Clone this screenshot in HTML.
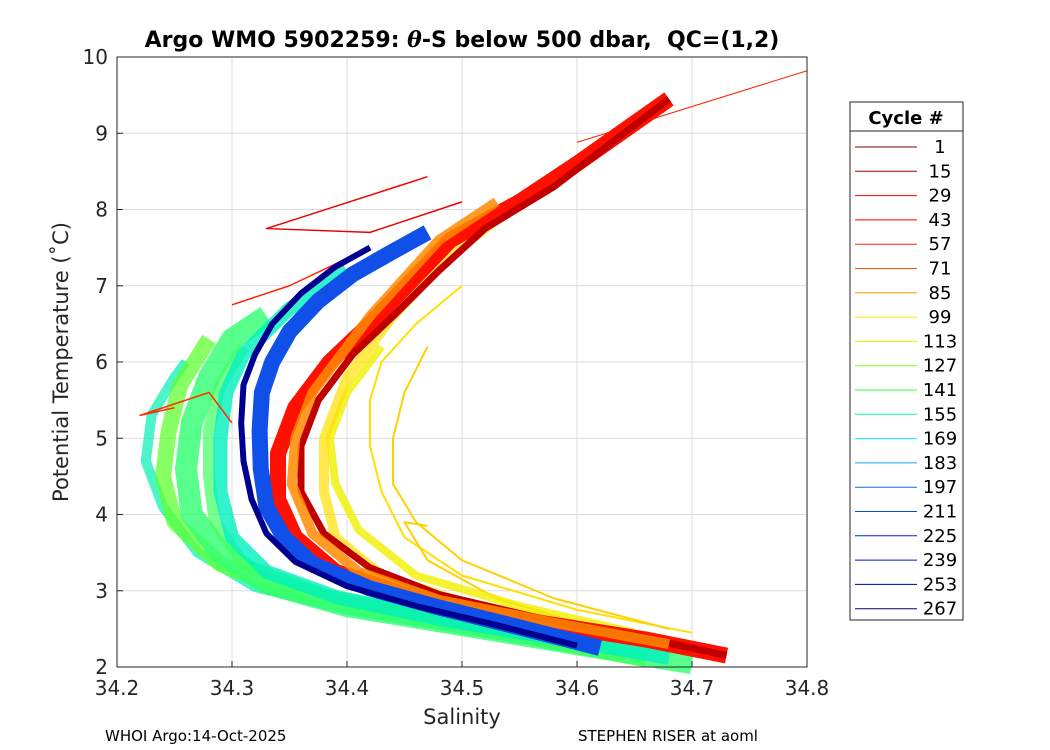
<!DOCTYPE html>
<html><head><meta charset="utf-8"><style>
body{margin:0;background:#fff;}
svg{display:block;font-family:"DejaVu Sans","Liberation Sans",sans-serif;}
</style></head><body>
<svg id="c" width="1050" height="750" viewBox="0 0 1050 750">
<rect x="0" y="0" width="1050" height="750" fill="#fff"/>
<rect x="117" y="57" width="690" height="610" fill="#fff"/>
<g id="grid"></g>
<g id="lines"></g>
<rect x="117" y="57" width="690" height="610" fill="none" stroke="#262626" stroke-width="1"/>
<g id="ticks"></g>
<text x="462" y="47" text-anchor="middle" font-size="22" font-weight="bold" fill="#000">Argo WMO 5902259: <tspan font-family="DejaVu Serif,serif" font-style="italic">θ</tspan>-S below 500 dbar,&#160; QC=(1,2)</text>
<text x="462" y="724" text-anchor="middle" font-size="21" fill="#262626">Salinity</text>
<text transform="translate(68,362) rotate(-90)" text-anchor="middle" font-size="21" fill="#262626">Potential Temperature (˚C)</text>
<text x="105" y="741" font-size="15" fill="#000">WHOI Argo:14-Oct-2025</text>
<text x="578" y="741" font-size="15" fill="#000">STEPHEN RISER at aoml</text>
<g id="legend">
<rect x="850" y="102" width="113" height="518" fill="#fff" stroke="#262626"/>
<line x1="850" y1="131" x2="963" y2="131" stroke="#262626"/>
<text x="906" y="124" text-anchor="middle" font-size="18" font-weight="bold" fill="#000">Cycle #</text>
</g>
</svg>
<script>
const xTicks=[34.2,34.3,34.4,34.5,34.6,34.7,34.8];
const yTicks=[2,3,4,5,6,7,8,9,10];
const legendCycles=[1,15,29,43,57,71,85,99,113,127,141,155,169,183,197,211,225,239,253,267];
const legendColors=["#800000","#a00000","#ff0000","#f80000","#ff2a00","#ff5500","#ff9000","#ffe000","#c8ff00","#80ff00","#30ff40","#00ffa0","#00f0f0","#10a8f0","#1070e0","#0050e0","#0028d0","#0010c0","#000098","#000070"];
// profiles: [salinity, theta] pairs
const redBand=[[34.73,2.15],[34.66,2.36],[34.56,2.6],[34.46,2.9],[34.39,3.25],[34.355,3.7],[34.34,4.2],[34.34,4.8],[34.355,5.4],[34.385,6.0],[34.42,6.5],[34.455,7.05],[34.49,7.6],[34.55,8.1],[34.6,8.6],[34.68,9.45]];
const darkRedBand=[[34.73,2.15],[34.66,2.38],[34.57,2.63],[34.48,2.95],[34.42,3.3],[34.38,3.75],[34.36,4.3],[34.36,4.9],[34.375,5.5],[34.405,6.1],[34.44,6.6],[34.48,7.2],[34.52,7.75],[34.58,8.3],[34.68,9.45]];
const orangeBand=[[34.68,2.3],[34.58,2.58],[34.48,2.88],[34.41,3.25],[34.37,3.75],[34.352,4.4],[34.355,5.0],[34.37,5.6],[34.395,6.1],[34.42,6.6],[34.45,7.1],[34.48,7.6],[34.53,8.1]];
const yellowE=[[34.6,2.55],[34.5,2.85],[34.43,3.2],[34.39,3.7],[34.38,4.3],[34.38,5.0],[34.4,5.8],[34.44,6.6],[34.49,7.4],[34.55,8.1],[34.6,8.6]];
const yellowA=[[34.7,2.45],[34.6,2.75],[34.5,3.2],[34.45,3.7],[34.43,4.3],[34.42,4.9],[34.42,5.5],[34.43,6.0],[34.46,6.5],[34.5,7.0]];
const yellowB=[[34.68,2.5],[34.58,2.9],[34.5,3.4],[34.46,3.9],[34.44,4.4],[34.44,5.0],[34.45,5.6],[34.47,6.2]];
const yellowC=[[34.65,2.45],[34.55,2.8],[34.46,3.2],[34.41,3.8],[34.39,4.4],[34.385,5.0],[34.4,5.6],[34.43,6.2]];
const yellowD=[[34.62,2.5],[34.53,2.9],[34.47,3.4],[34.45,3.9],[34.47,3.85]];
const greenA=[[34.7,2.05],[34.6,2.3],[34.5,2.55],[34.4,2.8],[34.33,3.1],[34.29,3.5],[34.265,4.0],[34.26,4.6],[34.265,5.2],[34.28,5.8],[34.3,6.3],[34.33,6.6]];
const greenC=[[34.64,2.15],[34.5,2.6],[34.38,2.95],[34.31,3.35],[34.285,3.9],[34.28,4.5],[34.28,5.1],[34.29,5.7],[34.31,6.2]];
const cyanA=[[34.68,2.12],[34.58,2.38],[34.48,2.63],[34.39,2.92],[34.33,3.25],[34.3,3.7],[34.29,4.3],[34.29,5.0],[34.295,5.6],[34.31,6.1],[34.35,6.7],[34.4,7.2]];
const greenB=[[34.66,2.1],[34.55,2.42],[34.44,2.72],[34.35,3.0],[34.29,3.35],[34.25,3.9],[34.24,4.5],[34.245,5.1],[34.255,5.7],[34.28,6.3]];
const cyanB=[[34.62,2.2],[34.5,2.5],[34.4,2.75],[34.32,3.05],[34.27,3.5],[34.24,4.1],[34.225,4.7],[34.23,5.3],[34.25,5.8],[34.26,6.0]];
const blueBand=[[34.62,2.25],[34.55,2.52],[34.48,2.78],[34.42,3.03],[34.37,3.35],[34.345,3.7],[34.33,4.1],[34.325,4.6],[34.324,5.1],[34.326,5.6],[34.335,6.0],[34.35,6.4],[34.375,6.8],[34.405,7.15],[34.44,7.45],[34.47,7.7]];
const navyBand=[[34.6,2.28],[34.53,2.55],[34.46,2.8],[34.4,3.06],[34.355,3.38],[34.33,3.75],[34.317,4.2],[34.31,4.7],[34.308,5.2],[34.31,5.7],[34.32,6.1],[34.335,6.5],[34.36,6.9],[34.39,7.25],[34.42,7.5]];
const outlierRed=[[34.6,8.88],[34.8,9.82]];
const outlierRed2=[[34.47,8.43],[34.33,7.75],[34.42,7.7],[34.5,8.1]];
const outlierRed3=[[34.3,6.75],[34.35,7.0],[34.42,7.5]];
const outlierRed4=[[34.25,5.4],[34.22,5.3],[34.28,5.6],[34.3,5.2]];

const X0=117,X1=807,Y0=667,Y1=57;
const sx=v=>X0+(v-34.2)/(0.6)*(X1-X0);
const sy=v=>Y0-(v-2)/8*(Y0-Y1);
const NS="http://www.w3.org/2000/svg";
const grid=document.getElementById('grid'),ticks=document.getElementById('ticks'),lines=document.getElementById('lines'),legend=document.getElementById('legend');
function mk(t,a,p){const e=document.createElementNS(NS,t);for(const k in a)e.setAttribute(k,a[k]);p.appendChild(e);return e;}
xTicks.forEach(v=>{const x=sx(v);
 const g=mk('line',{x1:x,x2:x,y1:Y1,y2:Y0,stroke:'#dcdcdc','stroke-width':1},grid);
 
 
 mk('line',{x1:x,x2:x,y1:Y0,y2:Y0-6,stroke:'#262626'},ticks);
 const t=mk('text',{x:x,y:Y0+28,'text-anchor':'middle','font-size':20,fill:'#262626'},ticks);t.textContent=v.toFixed(1);
 
 });
yTicks.forEach(v=>{const y=sy(v);
 const g=mk('line',{x1:X0,x2:X1,y1:y,y2:y,stroke:'#dcdcdc','stroke-width':1},grid);
 
 
 mk('line',{x1:X0,x2:X0+6,y1:y,y2:y,stroke:'#262626'},ticks);
 const t=mk('text',{x:X0-9,y:y+7,'text-anchor':'end','font-size':20,fill:'#262626'},ticks);t.textContent=v;
 
 });
function draw(arr,color,w,name,op){
 const p=mk('polyline',{points:arr.map(d=>sx(d[0])+','+sy(d[1])).join(' '),fill:'none',stroke:color,'stroke-width':w,'stroke-linejoin':'round','stroke-linecap':'butt','stroke-opacity':op||1},lines);
 
 }
draw(cyanB,'#00f0b0',10,'profile-cyan-b',0.7);
draw(greenB,'#60ff30',16,'profile-green-b',0.75);
draw(greenA,'#30ff70',22,'profile-green-a',0.8);
draw(greenC,'#40ff60',12,'profile-green-c',0.7);
draw(cyanA,'#00f0c0',14,'profile-cyan-a',0.8);
draw(yellowA,'#ffe000',2,'profile-yellow-a');
draw(yellowB,'#ffd000',2,'profile-yellow-b');
draw(yellowD,'#ffd000',2,'profile-yellow-d');
draw(yellowC,'#f0f000',8,'profile-yellow-c',0.8);
draw(yellowE,'#ffe000',10,'profile-yellow-e',0.7);
draw(outlierRed,'#ff2000',1,'profile-red-outlier');
draw(outlierRed2,'#ee0000',1.5,'profile-red-outlier-2');
draw(outlierRed3,'#ff2000',1.5,'profile-red-outlier-3');
draw(outlierRed4,'#ff3000',1.5,'profile-red-outlier-4');
draw(redBand,'#ff1000',16,'profile-red-band');
draw(darkRedBand,'#c00000',7,'profile-darkred-band');
draw(orangeBand,'#ff8a00',10,'profile-orange-band',0.85);
draw(blueBand,'#1050e8',16,'profile-blue-band');
draw(navyBand,'#000090',6,'profile-navy-band');
legendCycles.forEach((c,i)=>{const y=147+i*24.3;
 const l=mk('line',{x1:855,x2:917,y1:y,y2:y,stroke:legendColors[i],'stroke-width':1},legend);
 
 
 const t=mk('text',{x:940,y:y+6,'text-anchor':'middle','font-size':18,fill:'#000'},legend);t.textContent=c;
 
 });
</script>
</body></html>
